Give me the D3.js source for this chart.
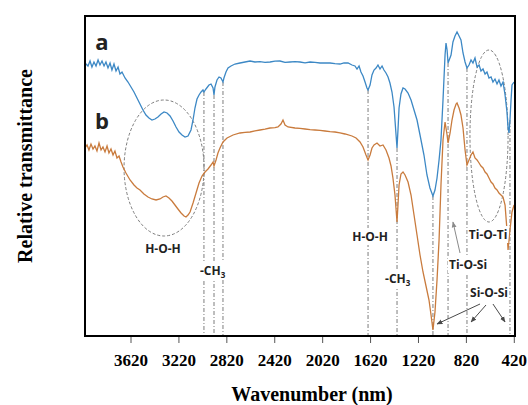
<!DOCTYPE html>
<html>
<head>
<meta charset="utf-8">
<script src="https://cdn.jsdelivr.net/npm/d3@7"></script>
<style>
  html, body { margin: 0; padding: 0; background: #fff; }
  svg { display: block; }
</style>
</head>
<body>
<svg id="chart" width="528" height="405"></svg>
<script>
// FTIR spectra: wavenumber (cm-1) vs relative transmittance (arbitrary units)
const tickLabels = [3620, 3220, 2820, 2420, 2020, 1620, 1220, 820, 420];

// sample a
const seriesA = [
  [4000,68.25],[3975,67.5],[3958,68.75],[3942,67.25],[3925,68.5],[3908,67.5],[3891,69],[3875,67.75],
  [3858,68.75],[3841,67.5],[3825,68.5],[3808,67],[3791,68.25],[3775,66.5],[3758,68],[3741,66.25],
  [3724,67.25],[3708,65.5],[3691,66],[3666,64.5],[3641,63.5],[3616,62.25],[3591,61],[3566,59.5],
  [3541,58],[3516,56.5],[3491,55.25],[3466,54.5],[3441,54],[3416,54.25],[3391,54.75],[3365,55.5],
  [3340,56],[3315,55.75],[3290,55],[3265,53.75],[3240,52.25],[3215,51],[3190,50.25],[3165,49.75],
  [3140,50],[3115,51.5],[3098,54],[3082,57],[3065,59.25],[3048,60.25],[3031,61],[3015,61.5],
  [3007,61],[2990,61.75],[2965,62.75],[2948,63],[2931,62],[2923,60.25],[2915,62.25],[2898,64],
  [2881,64.75],[2865,64.5],[2848,63.5],[2840,64.5],[2823,66],[2806,67],[2781,67.5],[2748,68],
  [2706,68.25],[2664,68.5],[2622,68.75],[2581,68.5],[2539,68.6],[2497,68.4],[2455,68.5],[2414,68.7],
  [2372,68.75],[2330,68.4],[2288,68.5],[2247,68.6],[2205,68.5],[2163,68.3],[2121,68.5],[2080,68.4],
  [2038,68.25],[1996,68.3],[1954,68.25],[1913,68.1],[1871,68],[1838,68.3],[1804,68.25],[1771,67.75],
  [1746,67.5],[1729,66.75],[1712,67.5],[1696,66],[1679,65],[1662,63.5],[1646,62],[1637,61.5],
  [1620,62.75],[1604,65.25],[1587,66.5],[1570,67],[1554,67.75],[1537,66.75],[1520,67.5],[1504,66.5],
  [1487,65.75],[1470,64.75],[1454,63.25],[1437,61],[1420,57.25],[1403,50.25],[1395,47],[1387,51.5],
  [1378,57],[1362,60.5],[1345,62],[1328,61.75],[1303,60.75],[1278,59],[1253,56.5],[1228,54],
  [1203,50.25],[1170,45.25],[1145,40.25],[1120,37],[1095,35],[1078,36.5],[1061,39.5],[1044,44],
  [1028,49],[1011,59],[994,70.25],[986,73.25],[977,71.5],[969,68.25],[944,70.25],[928,73.5],
  [911,75],[894,76],[877,75],[861,74],[844,70.75],[827,68.5],[811,67],[794,67.75],
  [777,69],[761,68.25],[744,69.5],[727,67.25],[710,67.75],[694,66.25],[677,66.75],[660,65.5],
  [644,66],[627,64.5],[610,64.75],[594,63.5],[577,64.25],[560,63],[544,64],[527,62.5],
  [510,63.5],[493,60.25],[477,56],[468,52],[460,50.75],[452,54],[443,59],[435,62.75],[418,63.5]
];

// sample b
const seriesB = [
  [4000,47],[3983,47.75],[3967,46.5],[3950,48],[3933,46.75],[3917,47.5],[3900,46.25],[3883,48.25],
  [3866,46.5],[3850,47.25],[3833,46],[3816,47.5],[3800,45.75],[3783,46.75],[3766,45.25],[3750,46.25],
  [3733,44.5],[3716,45],[3699,43.5],[3683,42.25],[3658,40.75],[3624,39],[3591,37.75],[3566,37],
  [3541,36.5],[3508,35.5],[3474,34.75],[3441,34.25],[3407,34],[3374,34.25],[3349,34.75],[3324,35],
  [3299,34.5],[3274,33.75],[3249,32.75],[3224,31.75],[3198,30.75],[3173,30],[3157,29.75],[3140,30.25],
  [3123,31],[3098,33.25],[3073,35.75],[3048,38.25],[3023,40],[2998,41],[2973,41.75],[2948,42.75],
  [2931,43.5],[2923,42.5],[2906,44],[2890,45.75],[2873,47],[2848,48.5],[2814,49.5],[2764,50.25],
  [2706,50.75],[2664,50.9],[2622,51],[2581,51.3],[2539,51.5],[2497,51.7],[2455,52],[2414,52.1],
  [2389,52.25],[2364,53],[2347,54],[2330,52.75],[2305,52.25],[2247,52],[2205,51.9],[2163,51.75],
  [2121,51.6],[2080,51.5],[2038,51.4],[1996,51.25],[1954,51.1],[1913,51],[1871,50.8],[1829,50.5],
  [1771,50],[1737,49.5],[1704,48.5],[1679,47.25],[1654,45.25],[1637,44],[1620,45.25],[1604,47],
  [1587,47.75],[1562,48.25],[1537,47.5],[1512,47.75],[1487,46.5],[1462,44.5],[1445,42.5],[1429,39.5],
  [1412,35.25],[1395,28.5],[1387,32.75],[1378,37.75],[1362,40.5],[1345,41],[1328,40.25],[1303,38.5],
  [1278,35.25],[1253,30.25],[1228,25.25],[1203,20.25],[1178,16],[1153,12.5],[1128,9],[1111,5.25],
  [1095,1.5],[1078,6],[1061,14],[1044,24],[1028,37.75],[1011,49],[994,53.5],[977,50.25],
  [969,48.25],[952,50.75],[936,54],[919,56.5],[902,58],[894,58.25],[877,57],[861,55.25],
  [844,52],[827,46.5],[811,42.75],[794,44],[777,45.25],[761,46],[744,44.5],[727,44],
  [710,43.25],[694,42.5],[677,42],[660,41],[644,40.5],[627,39.5],[610,38.5],[594,38],
  [577,37],[560,36.5],[544,35.75],[527,35.25],[510,34.75],[493,32.75],[477,26.5],[468,21.5],
  [460,24],[452,26.5],[435,31],[418,32.75]
];

// band positions marked with dash-dot guides
const bandLines = [3007, 2923, 2848, 1637, 1395, 1095, 969, 811, 452];

// band assignments: [text, wavenumber, transmittance, anchor]
const bandLabels = [
  ["H-O-H", 3349, 20.75, "middle"],
  ["-CH3", 3040, 15.25, "start"],
  ["H-O-H", 1620, 23.75, "middle"],
  ["-CH3", 1495, 13.25, "start"],
  ["Ti-O-Si", 802, 16.75, "middle"],
  ["Ti-O-Ti", 635, 24.25, "middle"],
  ["Si-O-Si", 627, 9.75, "middle"]
];

// series tags
const seriesTags = [["a", 3858, 71.5], ["b", 3858, 51.75]];

// arrows: [from wn, from T, to wn, to T, colour]
const arrows = [
  [869, 20.75, 928, 28.5, "#8a8a8a"],
  [702, 8, 1061, 3, "#4a4a4a"],
  [652, 7.75, 777, 3.5, "#4a4a4a"],
  [594, 8, 493, 3.5, "#4a4a4a"]
];

// dashed ellipses around broad bands: [centre wn, centre T, half-width wn, half-height T]
const ellipses = [
  [3340, 42, 334, 17],
  [627, 50, 159, 21.5]
];

const svg = d3.select("#chart");
const plotLeft = 85, plotRight = 515, plotTop = 16, plotBottom = 336;

const x = d3.scaleLinear().domain([4000, 410]).range([plotLeft, plotRight]);
const y = d3.scaleLinear().domain([0, 80]).range([plotBottom, plotTop]);

const defs = svg.append("defs");
["#8a8a8a", "#4a4a4a"].forEach((c, i) => {
  defs.append("marker")
    .attr("id", "arrow" + i)
    .attr("viewBox", "0 0 10 10")
    .attr("refX", 9).attr("refY", 5)
    .attr("markerWidth", 6).attr("markerHeight", 6)
    .attr("orient", "auto-start-reverse")
    .append("path").attr("d", "M0,1 L10,5 L0,9 Z").attr("fill", c);
});

function valueAt(series, wn) {
  for (let i = 0; i < series.length - 1; i++) {
    const a = series[i], b = series[i + 1];
    if (wn <= a[0] && wn >= b[0]) {
      const t = (a[0] - wn) / (a[0] - b[0]);
      return a[1] + t * (b[1] - a[1]);
    }
  }
  return series[series.length - 1][1];
}

// guides
svg.append("g").selectAll("line").data(bandLines).join("line")
  .attr("x1", d => x(d)).attr("x2", d => x(d))
  .attr("y1", d => y(valueAt(seriesA, d))).attr("y2", plotBottom)
  .attr("stroke", "#7d7d7d").attr("stroke-width", 1)
  .attr("stroke-dasharray", "4,2,1,2");

// ellipses
svg.append("g").selectAll("ellipse").data(ellipses).join("ellipse")
  .attr("cx", d => x(d[0])).attr("cy", d => y(d[1]))
  .attr("rx", d => Math.abs(x(d[0] + d[2]) - x(d[0])))
  .attr("ry", d => Math.abs(y(d[1] + d[3]) - y(d[1])))
  .attr("fill", "none").attr("stroke", "#7d7d7d").attr("stroke-width", 1)
  .attr("stroke-dasharray", "3,2");

// spectra
const line = d3.line().x(d => x(d[0])).y(d => y(d[1]));
svg.append("path").datum(seriesB).attr("d", line)
  .attr("fill", "none").attr("stroke", "#c97b3d").attr("stroke-width", 1.3);
svg.append("path").datum(seriesA).attr("d", line)
  .attr("fill", "none").attr("stroke", "#3c88c5").attr("stroke-width", 1.3);

// band labels with white backing
const lab = svg.append("g")
  .attr("font-family", "'Open Sans', sans-serif")
  .attr("font-weight", 700).attr("font-size", 12).attr("fill", "#222");
bandLabels.forEach(d => {
  const g = lab.append("g");
  const t = g.append("text").attr("x", x(d[1])).attr("y", y(d[2])).attr("text-anchor", d[3]);
  if (d[0].endsWith("3")) {
    t.append("tspan").text(d[0].slice(0, -1));
    t.append("tspan").attr("dy", 3).attr("font-size", 8).text("3");
  } else {
    t.text(d[0]);
  }
  const bb = t.node().getBBox();
  g.insert("rect", "text").attr("x", bb.x - 1).attr("y", bb.y).attr("width", bb.width + 2)
    .attr("height", bb.height).attr("fill", "#fff");
});

// arrows
svg.append("g").selectAll("line").data(arrows).join("line")
  .attr("x1", d => x(d[0])).attr("y1", d => y(d[1]))
  .attr("x2", d => x(d[2])).attr("y2", d => y(d[3]))
  .attr("stroke", d => d[4]).attr("stroke-width", 1)
  .attr("marker-end", d => d[4] === "#8a8a8a" ? "url(#arrow0)" : "url(#arrow1)");

// series tags
svg.append("g").selectAll("text").data(seriesTags).join("text")
  .attr("x", d => x(d[1])).attr("y", d => y(d[2]))
  .attr("text-anchor", "middle")
  .attr("font-family", "'Open Sans', sans-serif").attr("font-weight", 700)
  .attr("font-size", 22).attr("fill", "#222").text(d => d[0]);

// frame
svg.append("rect").attr("x", plotLeft).attr("y", plotTop)
  .attr("width", plotRight - plotLeft).attr("height", plotBottom - plotTop)
  .attr("fill", "none").attr("stroke", "#000").attr("stroke-width", 2);

// x axis
const ax = svg.append("g").attr("transform", `translate(0,${plotBottom + 1})`)
  .call(d3.axisBottom(x).tickValues(tickLabels).tickFormat(d3.format("d")).tickSize(6).tickPadding(11));
ax.select(".domain").remove();
ax.selectAll(".tick line").attr("stroke", "#555");
ax.selectAll("text").attr("font-family", "'Liberation Serif', 'Times New Roman', serif")
  .attr("font-weight", "bold").attr("font-size", 17).attr("fill", "#000");

svg.append("text").attr("x", 312).attr("y", 401).attr("text-anchor", "middle")
  .attr("font-family", "'Liberation Serif', 'Times New Roman', serif")
  .attr("font-weight", "bold").attr("font-size", 20).text("Wavenumber (nm)");

svg.append("text").attr("transform", "translate(32,166) rotate(-90)")
  .attr("text-anchor", "middle")
  .attr("font-family", "'Liberation Serif', 'Times New Roman', serif")
  .attr("font-weight", "bold").attr("font-size", 20).text("Relative transmittance");
</script>
</body>
</html>
